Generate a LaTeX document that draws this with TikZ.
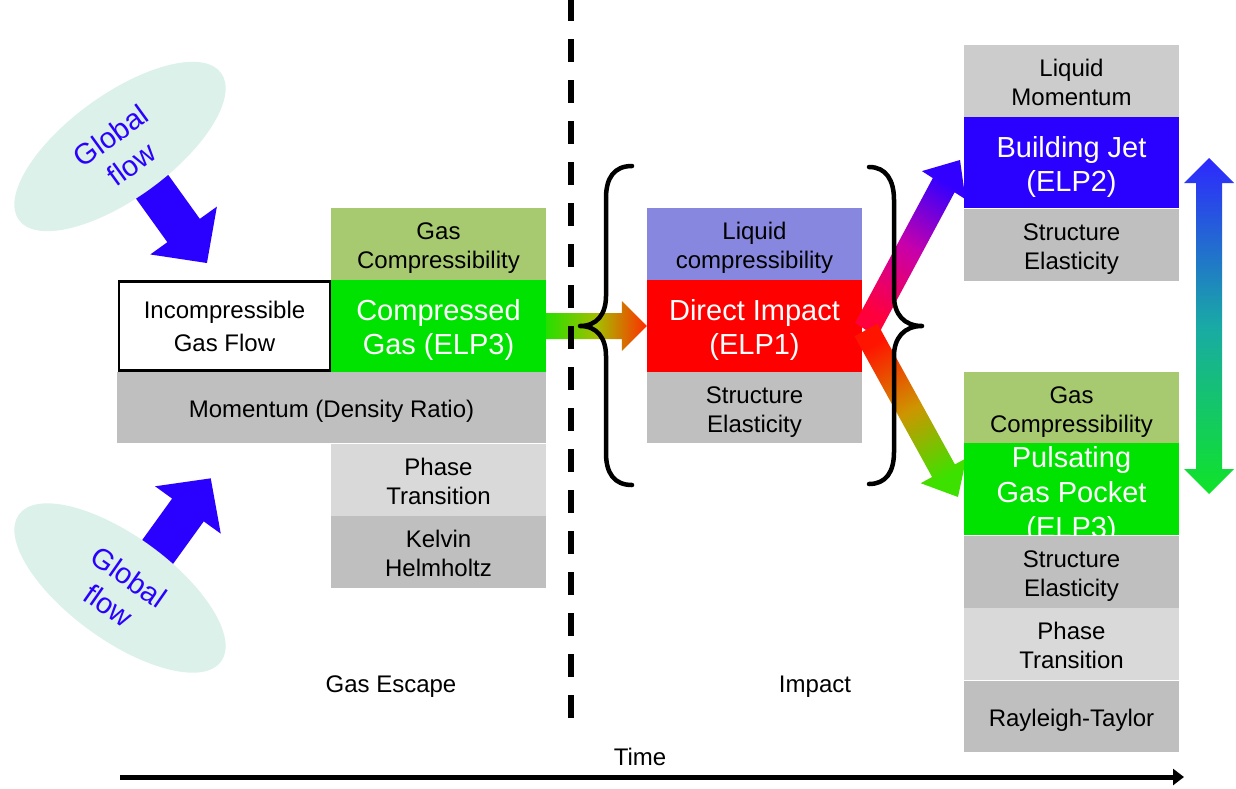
\documentclass[tikz,border=0pt]{standalone}
\usepackage{fontspec}
\setmainfont{Liberation Sans}
\usetikzlibrary{arrows.meta,positioning,shapes.geometric,calc}

\definecolor{lgreen}{RGB}{167,201,112}
\definecolor{elpgreen}{RGB}{0,226,0}
\definecolor{midgray}{RGB}{191,191,191}
\definecolor{palegray}{RGB}{204,204,204}
\definecolor{lgray}{RGB}{217,217,217}
\definecolor{lilac}{RGB}{135,135,223}
\definecolor{elpblue}{RGB}{42,0,255}
\definecolor{mint}{RGB}{220,241,233}

\begin{document}
\begin{tikzpicture}[
  x=1pt, y=-1pt,
  >=Latex,
  cell/.style={rectangle, inner sep=0pt, align=center, minimum width=215pt, minimum height=72pt, font=\fontsize{24}{29}\selectfont,
    text height=55pt, text depth=6pt},
  oneline/.style={text height=26pt, text depth=6pt},
  elp/.style={cell, minimum height=92pt, text=white, font=\fontsize{29}{34}\selectfont, text height=64pt, text depth=7pt},
  caption/.style={font=\fontsize{24}{29}\selectfont},
  globe/.style={ellipse, fill=mint, minimum width=250pt, minimum height=104pt, inner sep=0pt},
  globetext/.style={text=elpblue, align=center, font=\fontsize{29}{35}\selectfont},
  brace/.style={line width=4.5pt, line cap=round, line join=round}
]
\useasboundingbox (0,0) rectangle (1236,788);

% global flow, top and bottom
\begin{scope}[shift={(148,181)}, rotate=-54.3]
  \fill[elpblue] (0,-20) -- (61,-20) -- (61,-41) -- (101,0) -- (61,41) -- (61,20) -- (0,20) -- cycle;
\end{scope}
\begin{scope}[shift={(154,557)}, rotate=54.2]
  \fill[elpblue] (0,-19.5) -- (58,-19.5) -- (58,-40.5) -- (97,0) -- (58,40.5) -- (58,19.5) -- (0,19.5) -- cycle;
\end{scope}
\node[globe, rotate=36] (flowtop) at (120,146.5) {};
\node[globetext, rotate=36] (flowtoplbl) at (121,150) {Global\\flow};
\node[globe, rotate=-36] (flowbot) at (120,588) {};
\node[globetext, rotate=-35] (flowbotlbl) at (119,591) {Global\\flow};

% gas escape column
\node[elp, fill=elpgreen] (cgas) at (438.5,326) {Compressed\\Gas (ELP3)};
\node[cell, fill=lgreen, above=0pt of cgas] (gcomp) {Gas\\Compressibility};
\node[cell, oneline, fill=midgray, minimum width=429pt, minimum height=71pt, anchor=north east] (momentum) at (cgas.south east) {Momentum (Density Ratio)};
\node[cell, fill=lgray, below=0pt of momentum.south east, anchor=north east] (phase) {Phase\\Transition};
\node[cell, fill=midgray, below=0pt of phase] (kelvin) {Kelvin\\Helmholtz};
\node[cell, draw, line width=2.5pt, minimum width=211pt, minimum height=89pt, font=\fontsize{24}{33}\selectfont, text height=57pt] (incomp) at (224.5,326) {Incompressible\\Gas Flow};

% impact column
\node[elp, fill=red] (impact) at (754.5,326) {Direct Impact\\(ELP1)};
\node[cell, fill=lilac, above=0pt of impact] (lcomp) {Liquid\\compressibility};
\node[cell, fill=midgray, minimum height=71pt, below=0pt of impact] (struct) {Structure\\Elasticity};

\shade[left color={rgb,255:red,40;green,222;blue,0}, right color={rgb,255:red,255;green,45;blue,0}, middle color={rgb,255:red,165;green,190;blue,0}]
  ($(cgas.east)+(0,-13)$) -- ($(impact.west)+(-25,-13)$) -- ($(impact.west)+(-25,-25)$) -- (impact.west)
  -- ($(impact.west)+(-25,25)$) -- ($(impact.west)+(-25,13)$) -- ($(cgas.east)+(0,13)$) -- cycle;

\draw[line width=5.5pt, dash pattern=on 23pt off 18pt] (571,-2) -- (571,722);

% fork towards jet and pocket
\shade[top color={rgb,255:red,50;green,0;blue,255}, bottom color={rgb,255:red,255;green,0;blue,60}, middle color={rgb,255:red,200;green,0;blue,170}, shading angle=-33]
  (855.1,322.9) -- (932.8,178.1) -- (921.9,171.1) -- (960,160) -- (965.5,199.3) -- (954.6,192.3) -- (876.9,337.1) -- cycle;
\shade[top color={rgb,255:red,255;green,20;blue,0}, bottom color={rgb,255:red,60;green,225;blue,0}, middle color={rgb,255:red,205;green,150;blue,0}, shading angle=29]
  (877.4,323.7) -- (954.9,464.4) -- (966.3,458.2) -- (958,497) -- (920.7,483.2) -- (932.1,477.0) -- (854.6,336.3) -- cycle;

% right column
\node[cell, fill=palegray] (lmom) at (1071.5,81) {Liquid\\Momentum};
\node[elp, fill=elpblue, minimum height=91pt, below=0pt of lmom] (jet) {Building Jet\\(ELP2)};
\node[cell, fill=midgray, below=0pt of jet] (struct2) {Structure\\Elasticity};

\node[cell, fill=lgreen, minimum height=71pt] (gcomp2) at (1071.5,407.5) {Gas\\Compressibility};
\node[elp, fill=elpgreen, below=0pt of gcomp2] (pocket) {};
\node[elp, font=\fontsize{29}{35}\selectfont, text height=104pt] (pocketlbl) at (pocket) {Pulsating\\Gas Pocket\\(ELP3)};
\node[cell, fill=midgray, below=0pt of pocket] (struct3) {Structure\\Elasticity};
\node[cell, fill=lgray, below=0pt of struct3] (phase2) {Phase\\Transition};
\node[cell, oneline, fill=midgray, minimum height=71pt, below=0pt of phase2] (rayleigh) {Rayleigh-Taylor};

% braces
\draw[brace] (632,166) .. controls (614,166) and (606,178) .. (606,198) -- (606,296)
  .. controls (606,314) and (597,326) .. (580,326) .. controls (597,326) and (606,338) .. (606,356)
  -- (606,453) .. controls (606,473) and (614,485) .. (632,485);
\draw[brace] (869,167) .. controls (886,167) and (894,180) .. (894,200) -- (894,296)
  .. controls (894,314) and (904,326) .. (922,326) .. controls (904,326) and (894,338) .. (894,356)
  -- (894,452) .. controls (894,472) and (886,484) .. (869,484);

% jet <-> pocket
\shade[top color={rgb,255:red,45;green,40;blue,255}, bottom color={rgb,255:red,15;green,228;blue,40}, middle color={rgb,255:red,25;green,170;blue,165}]
  (1209,158) -- (1234,183) -- (1222,183) -- (1222,469) -- (1234,469) -- (1209,494)
  -- (1184,469) -- (1196,469) -- (1196,183) -- (1184,183) -- cycle;

% phases and time
\node[caption] (escape) at (391,687) {Gas Escape};
\node[caption] (impactlbl) at (815,687) {Impact};
\node[caption] (time) at (640,757) {Time};
\coordinate (t0) at (120,777);
\coordinate (t1) at (1184,777);
\draw[line width=5pt, -{Triangle[length=11pt,width=16pt]}] (t0) -- (t1);

\end{tikzpicture}
\end{document}
